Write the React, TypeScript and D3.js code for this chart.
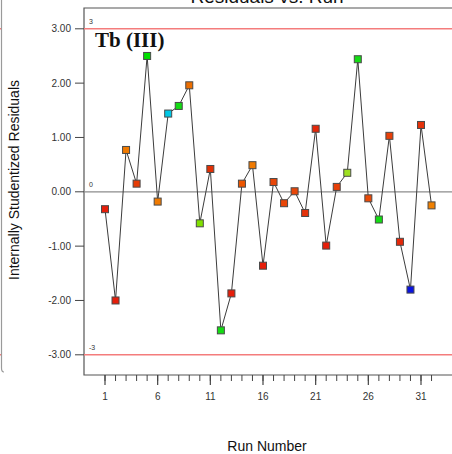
import React from "react";
import * as d3 from "d3";

// Run order and internally studentized residuals
const runs: number[] = Array.from({ length: 32 }, (_, i) => i + 1);
const residuals: number[] = [
  -0.32, -2.0, 0.77, 0.15, 2.5, -0.18, 1.44, 1.58, 1.96, -0.58,
  0.42, -2.55, -1.87, 0.15, 0.49, -1.36, 0.18, -0.21, 0.01, -0.39,
  1.16, -0.99, 0.09, 0.35, 2.44, -0.12, -0.51, 1.03, -0.92, -1.8,
  1.23, -0.25,
];
// Point colour per run (response level colouring)
const pointColors: string[] = [
  "#e61e0a", "#e61e0a", "#f07a00", "#e63c05", "#00e000", "#f07a00", "#00c8e6", "#14dc14",
  "#ec6e00", "#80e000", "#e23005", "#14dc14", "#e61e0a", "#ec5500", "#f07a00", "#e61e0a",
  "#e84608", "#e84608", "#e84608", "#e4320a", "#e4280a", "#e61e0a", "#e84008", "#9ee020",
  "#14dc14", "#e84a08", "#14dc14", "#e84008", "#e4280a", "#0a14e0", "#e4320a", "#f08000",
];
const yTicks: number[] = [3, 2, 1, 0, -1, -2, -3];
const xMajorTicks: number[] = [1, 6, 11, 16, 21, 26, 31];
const xMinorTicks: number[] = d3.range(1, 33);
const limitLines: number[] = [3, -3];

const W = 452;
const H = 454;
const left = 84;
const top = 8;
const bottom = 375;

export default function App() {
  const x = d3.scaleLinear().domain([1, 31]).range([105, 421]);
  const y = d3.scaleLinear().domain([-3, 3]).range([354.8, 28.8]);
  const line = d3
    .line<number>()
    .x((_, i) => x(runs[i]))
    .y((d) => y(d));

  const font = "Arial, 'Liberation Sans', sans-serif";

  return (
    <div style={{ position: "fixed", left: 0, top: 0 }}>
      <svg width={W} height={H} style={{ display: "block", background: "#fff" }}>
        {/* neighbouring panel edge */}
        <path d={`M1.5,0 V368 Q1.5,372 4,372`} fill="none" stroke="#9a9a9a" strokeWidth={1.2} />
        <line x1={0} x2={1} y1={y(3)} y2={y(3)} stroke="#f08080" strokeWidth={1.5} />
        <line x1={0} x2={1} y1={y(-3)} y2={y(-3)} stroke="#f08080" strokeWidth={1.5} />

        {/* title, partly above the page */}
        <text x={267} y={3} textAnchor="middle" fontFamily={font} fontSize={19} fill="#111">
          Residuals vs. Run
        </text>

        {/* frame */}
        <path
          d={`M${W + 5},${top} H${left} V${bottom} H${W + 5}`}
          fill="none"
          stroke="#555"
          strokeWidth={1.2}
        />

        {/* limit lines */}
        {limitLines.map((v) => (
          <g key={v}>
            <line x1={left} x2={W} y1={y(v)} y2={y(v)} stroke="#f47c7c" strokeWidth={1.6} />
            <text x={89} y={y(v) - 5} fontFamily={font} fontSize={7} fill="#333">
              {v}
            </text>
          </g>
        ))}
        {/* zero line */}
        <line x1={left} x2={W} y1={y(0)} y2={y(0)} stroke="#8c8c8c" strokeWidth={1.3} />
        <text x={89} y={y(0) - 5} fontFamily={font} fontSize={7} fill="#333">
          0
        </text>

        {/* y axis */}
        {yTicks.map((v) => (
          <g key={v}>
            <line x1={75} x2={left} y1={y(v)} y2={y(v)} stroke="#444" strokeWidth={1} />
            <text
              x={71}
              y={y(v)}
              dy="0.35em"
              textAnchor="end"
              fontFamily={font}
              fontSize={10}
              fill="#333"
            >
              {v.toFixed(2)}
            </text>
          </g>
        ))}
        <text
          transform={`translate(19,180) rotate(-90)`}
          textAnchor="middle"
          fontFamily={font}
          fontSize={14}
          fill="#111"
        >
          Internally Studentized Residuals
        </text>

        {/* x axis */}
        {xMinorTicks.map((t) => (
          <line key={t} x1={x(t)} x2={x(t)} y1={bottom} y2={bottom + 6} stroke="#444" strokeWidth={1} />
        ))}
        {xMajorTicks.map((t) => (
          <g key={t}>
            <line x1={x(t)} x2={x(t)} y1={bottom} y2={bottom + 10} stroke="#444" strokeWidth={1.2} />
            <text x={x(t)} y={400} textAnchor="middle" fontFamily={font} fontSize={10} fill="#333">
              {t}
            </text>
          </g>
        ))}
        <text x={267} y={451} textAnchor="middle" fontFamily={font} fontSize={14} fill="#111">
          Run Number
        </text>

        {/* residual trace */}
        <path d={line(residuals) ?? ""} fill="none" stroke="#3c3c3c" strokeWidth={1} />
        {residuals.map((v, i) => (
          <rect
            key={i}
            x={x(runs[i]) - 3.5}
            y={y(v) - 3.5}
            width={7}
            height={7}
            fill={pointColors[i]}
            stroke="#4a4a4a"
            strokeWidth={1}
          />
        ))}

        <text
          x={95}
          y={47}
          fontFamily="'Liberation Serif', 'DejaVu Serif', serif"
          fontWeight="bold"
          fontSize={21}
          fill="#111"
        >
          Tb (III)
        </text>
      </svg>
    </div>
  );
}
